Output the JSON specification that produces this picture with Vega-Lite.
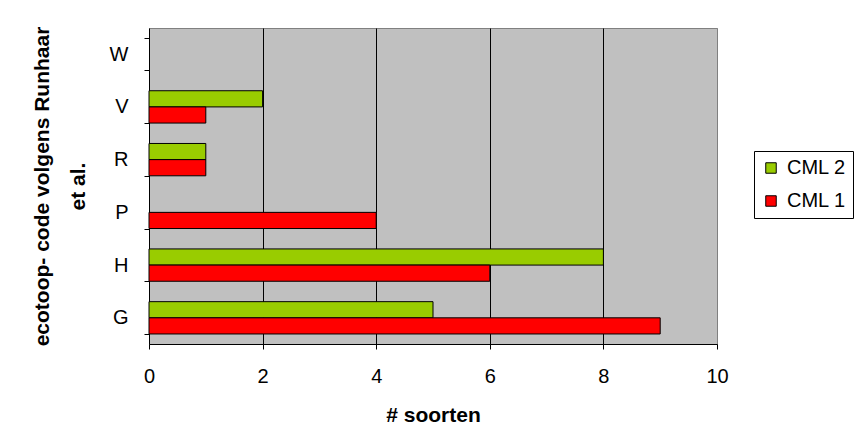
{
  "$schema": "https://vega.github.io/schema/vega-lite/v6.json",
  "autosize": "none",
  "width": 568,
  "height": 316,
  "padding": {"left": 149, "top": 28, "right": 139, "bottom": 102},
  "background": "#ffffff",
  "config": {
    "font": "Liberation Sans",
    "view": {"fill": "#C0C0C0", "stroke": "#808080", "strokeWidth": 1}
  },
  "data": {
    "values": [
      {"code": "V", "serie": "CML 2", "soorten": 2},
      {"code": "V", "serie": "CML 1", "soorten": 1},
      {"code": "R", "serie": "CML 2", "soorten": 1},
      {"code": "R", "serie": "CML 1", "soorten": 1},
      {"code": "P", "serie": "CML 1", "soorten": 4},
      {"code": "H", "serie": "CML 2", "soorten": 8},
      {"code": "H", "serie": "CML 1", "soorten": 6},
      {"code": "G", "serie": "CML 2", "soorten": 5},
      {"code": "G", "serie": "CML 1", "soorten": 9}
    ]
  },
  "mark": {"type": "bar", "stroke": "#000000", "strokeWidth": 1},
  "encoding": {
    "y": {
      "field": "code",
      "type": "nominal",
      "scale": {"domain": ["W", "V", "R", "P", "H", "G"], "paddingInner": 0.387, "paddingOuter": 0.19},
      "axis": {
        "title": ["ecotoop- code volgens Runhaar", "et al."],
        "titleFont": "Liberation Sans",
        "titleFontSize": 21,
        "titleFontWeight": "bold",
        "titleColor": "#000000",
        "titleLineHeight": 36,
        "titlePadding": 21,
        "labelFont": "Liberation Sans",
        "labelFontSize": 20,
        "labelColor": "#000000",
        "labelPadding": 16,
        "labelAngle": 0,
        "tickBand": "extent",
        "tickColor": "#000000",
        "tickSize": 5,
        "domainColor": "#000000",
        "grid": false
      }
    },
    "yOffset": {
      "field": "serie",
      "type": "nominal",
      "sort": ["CML 2", "CML 1"],
      "scale": {"paddingInner": 0, "paddingOuter": 0}
    },
    "x": {
      "field": "soorten",
      "type": "quantitative",
      "scale": {"domain": [0, 10], "nice": false},
      "axis": {
        "title": "# soorten",
        "titleFont": "Liberation Sans",
        "titleFontSize": 21,
        "titleFontWeight": "bold",
        "titleColor": "#000000",
        "titlePadding": 18,
        "values": [0, 2, 4, 6, 8, 10],
        "labelFont": "Liberation Sans",
        "labelFontSize": 20,
        "labelColor": "#000000",
        "labelPadding": 17,
        "labelFlush": false,
        "tickColor": "#000000",
        "tickSize": 5,
        "domainColor": "#000000",
        "grid": true,
        "gridColor": {"condition": {"test": "datum.value == 0 || datum.value == 10", "value": "#808080"}, "value": "#000000"},
        "gridOpacity": 1
      }
    },
    "color": {
      "field": "serie",
      "type": "nominal",
      "scale": {"domain": ["CML 2", "CML 1"], "range": ["#99CC00", "#FF0000"]},
      "legend": {
        "title": null,
        "orient": "none",
        "legendX": 605,
        "legendY": 123,
        "symbolType": "square",
        "symbolSize": 110,
        "symbolStrokeColor": "#000000",
        "symbolStrokeWidth": 1,
        "labelFont": "Liberation Sans",
        "labelFontSize": 20,
        "labelColor": "#000000",
        "labelOffset": 6,
        "rowPadding": 13,
        "padding": 7,
        "strokeColor": "#000000",
        "fillColor": "#ffffff"
      }
    }
  }
}
